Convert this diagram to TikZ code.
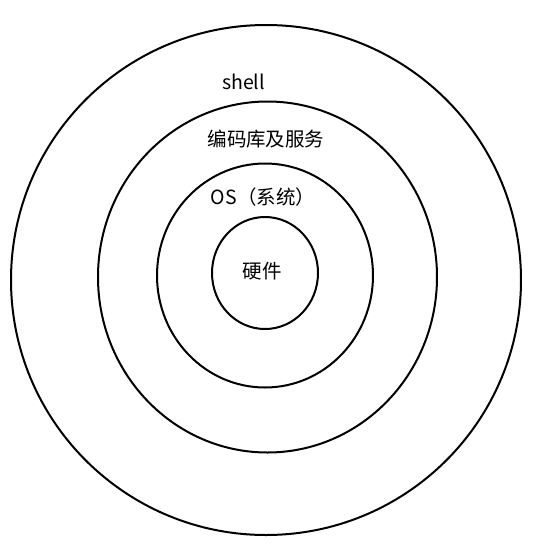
\documentclass[tikz,border=0pt]{standalone}
\usepackage{fontspec}
\setmainfont{Noto Sans CJK SC}
\begin{document}
\begin{tikzpicture}[x=1pt,y=-1pt,
  ring/.style={draw=black,line width=2pt},
  lbl/.style={font=\fontsize{19.5}{22}\selectfont,inner sep=0pt,text=black}]
\useasboundingbox[fill=white] (0,0) rectangle (549,550);
\draw[ring] (266,280) ellipse [x radius=255,y radius=255];
\draw[ring] (267.5,277) ellipse [x radius=169.5,y radius=175.5];
\draw[ring] (265,275.5) ellipse [x radius=108,y radius=112];
\draw[ring] (265,273) ellipse [x radius=53,y radius=56];
\node[lbl] (shell) at (243.5,82) {shell};
\node[lbl] (lib) at (266,139) {编码库及服务};
\node[lbl] (os) at (263,197) {OS（系统）};
\node[lbl] (hw) at (262,271) {硬件};
\end{tikzpicture}
\end{document}
